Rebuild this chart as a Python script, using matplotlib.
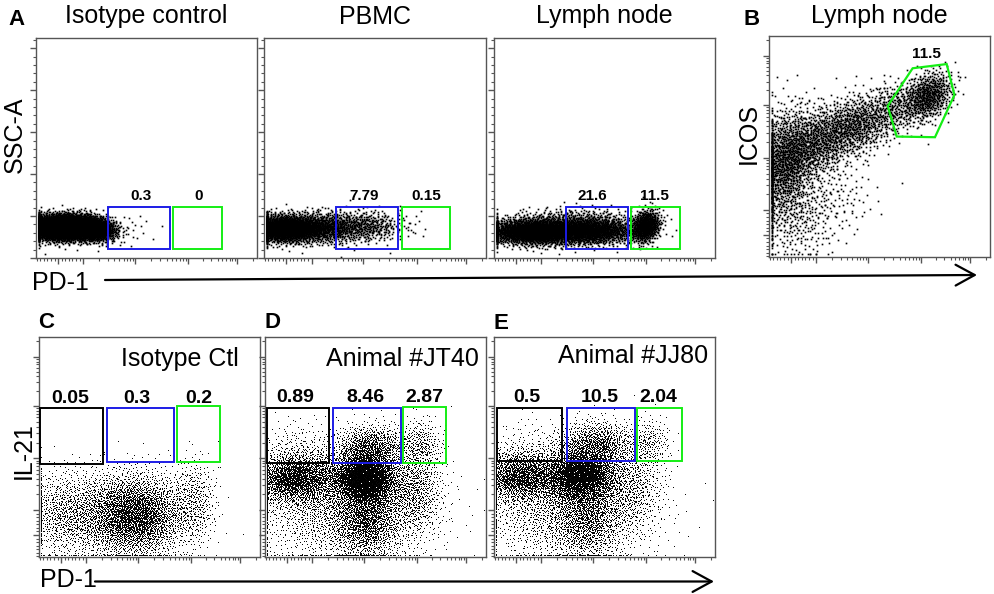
import numpy as np
import matplotlib
matplotlib.use("Agg")
import matplotlib.pyplot as plt
from matplotlib.patches import Rectangle, Polygon, FancyArrowPatch

plt.rcParams['font.family'] = ['Liberation Sans', 'DejaVu Sans']

# ---------------- data (display units 0..1 of each axis) ----------------
# event clouds: (cx, cy, sx, sy, n, rho)
A_ISO = [(0.12, 0.140, 0.08, 0.028, 5000, 0.0),
         (0.25, 0.135, 0.05, 0.026, 2000, -0.2),
         (0.42, 0.130, 0.06, 0.040, 25, 0.0)]
A_PBMC = [(0.10, 0.135, 0.09, 0.030, 2800, 0.0),
          (0.30, 0.140, 0.08, 0.035, 700, 0.0),
          (0.47, 0.145, 0.08, 0.035, 380, 0.0),
          (0.68, 0.160, 0.04, 0.040, 8, 0.0)]
A_LN = [(0.20, 0.120, 0.12, 0.028, 3200, 0.0),
        (0.45, 0.125, 0.10, 0.030, 1500, 0.0),
        (0.35, 0.170, 0.15, 0.030, 400, 0.0),
        (0.685, 0.145, 0.032, 0.035, 800, 0.2)]
B_LN = [(0.07, 0.43, 0.07, 0.12, 1300, 0.2),
        (0.22, 0.52, 0.09, 0.08, 850, 0.3),
        (0.40, 0.60, 0.09, 0.07, 750, 0.3),
        (0.58, 0.68, 0.07, 0.06, 300, 0.2),
        (0.72, 0.73, 0.055, 0.055, 650, 0.3),
        (0.12, 0.18, 0.10, 0.10, 320, 0.0),
        (0.30, 0.28, 0.10, 0.08, 100, 0.0)]
C_ISO = [(0.42, 0.19, 0.12, 0.095, 3800, 0.0),
         (0.12, 0.20, 0.10, 0.10, 1000, 0.0),
         (0.70, 0.25, 0.05, 0.10, 450, 0.0)]
D_JT40 = [(0.14, 0.36, 0.10, 0.060, 2400, 0.0),
          (0.45, 0.36, 0.075, 0.06, 3600, 0.0),
          (0.46, 0.17, 0.08, 0.090, 1500, 0.0),
          (0.35, 0.22, 0.20, 0.130, 2200, 0.0),
          (0.68, 0.30, 0.06, 0.100, 700, 0.0),
          (0.48, 0.50, 0.08, 0.050, 1000, 0.0),
          (0.70, 0.51, 0.05, 0.060, 320, 0.0),
          (0.15, 0.52, 0.09, 0.060, 130, 0.0)]
E_JJ80 = [(0.12, 0.37, 0.10, 0.060, 2000, 0.0),
          (0.39, 0.37, 0.08, 0.06, 3000, 0.0),
          (0.42, 0.18, 0.08, 0.100, 1200, 0.0),
          (0.32, 0.22, 0.20, 0.130, 2000, 0.0),
          (0.62, 0.32, 0.07, 0.100, 600, 0.0),
          (0.46, 0.51, 0.09, 0.055, 1100, 0.0),
          (0.70, 0.52, 0.05, 0.060, 230, 0.0),
          (0.16, 0.53, 0.09, 0.060, 80, 0.0)]

# panel A gates (x0, y0, x1, y1) and gate frequencies
A_BLUE = (0.325, 0.042, 0.605, 0.232)
A_GREEN = (0.620, 0.042, 0.840, 0.232)
A_TITLES = ['Isotype control', 'PBMC', 'Lymph node']
A_BLUE_PCT = ['0.3', '7.79', '21.6']
A_GREEN_PCT = ['0', '0.15', '11.5']
A_BLUE_LX = [0.477, 0.450, 0.447]
A_GREEN_LX = [0.737, 0.730, 0.724]

# panel B gate
B_GATE_X = [0.650, 0.804, 0.839, 0.751, 0.578, 0.537]
B_GATE_Y = [0.854, 0.873, 0.733, 0.542, 0.545, 0.683]
B_PCT = '11.5'

# panels C-E gates
CDE_TITLES = ['Isotype Ctl', 'Animal #JT40', 'Animal #JJ80']
CDE_BLACK = [(0.005, 0.423, 0.290, 0.676), (0.008, 0.427, 0.290, 0.677), (0.012, 0.438, 0.306, 0.679)]
CDE_BLUE = [(0.306, 0.430, 0.612, 0.676), (0.306, 0.427, 0.615, 0.679), (0.329, 0.438, 0.637, 0.679)]
CDE_GREEN = [(0.624, 0.430, 0.820, 0.685), (0.626, 0.427, 0.819, 0.680), (0.648, 0.438, 0.852, 0.679)]
CDE_PCT = [('0.05', '0.3', '0.2'), ('0.89', '8.46', '2.87'), ('0.5', '10.5', '2.04')]
CDE_LX = [(0.140, 0.442, 0.724), (0.136, 0.455, 0.721), (0.148, 0.480, 0.744)]

# ---------------- helpers ----------------
W, H = 995, 594
fig = plt.figure(figsize=(W / 100, H / 100), dpi=100)

BLUE = '#1c1ce6'
GREEN = '#14ee14'
FRAME = '#555555'


def ax_at(x0, y0, x1, y1):
    return fig.add_axes([x0 / W, 1 - y1 / H, (x1 - x0) / W, (y1 - y0) / H])


def ftext(x, y, s, **kw):
    fig.text(x / W, 1 - y / H, s, **kw)


def halton(n, base, start):
    idx = np.arange(start, start + n)
    res = np.zeros(n)
    f = 1.0
    i = idx.copy()
    while np.any(i > 0):
        f /= base
        res += f * (i % base)
        i //= base
    return res


def cloud(comps, offset):
    xs, ys = [], []
    for k, (cx, cy, sx, sy, n, rho) in enumerate(comps):
        s = 1 + offset + 7919 * (k + 1)
        u1 = halton(n, 2, s)
        u2 = halton(n, 3, s)
        u1 = np.clip(u1, 1e-6, 1)
        r = np.sqrt(-2 * np.log(u1))
        z1 = r * np.cos(2 * np.pi * u2)
        z2 = r * np.sin(2 * np.pi * u2)
        xs.append(cx + sx * z1)
        ys.append(cy + sy * (rho * z1 + np.sqrt(1 - rho ** 2) * z2))
    return np.concatenate(xs), np.concatenate(ys)


def biexp_ticks(ax, axis):
    major = [0.10, 0.214, 0.448, 0.688, 0.91]
    minor = []
    step = (0.214 - 0.10) / 7
    minor += [0.10 - step * k for k in range(1, 7)]
    minor += [0.10 + step * k for k in range(1, 7)]
    for a, b in [(0.214, 0.448), (0.448, 0.688), (0.688, 0.91), (0.91, 1.15)]:
        for m in range(2, 10):
            v = a + (b - a) * np.log10(m)
            if v < 1.0:
                minor.append(v)
    if axis == 'x':
        ax.set_xticks(major)
        ax.set_xticks(minor, minor=True)
    else:
        ax.set_yticks(major)
        ax.set_yticks(minor, minor=True)


def style(ax, ylin=False):
    ax.set_xlim(0, 1)
    ax.set_ylim(0, 1)
    biexp_ticks(ax, 'x')
    if ylin:
        ax.set_yticks([k * 50000 / 262144 for k in range(6)])
        ax.set_yticks([k * 10000 / 262144 for k in range(27) if k % 5], minor=True)
    else:
        biexp_ticks(ax, 'y')
    ax.tick_params(which='major', direction='out', length=4, width=1.0, color=FRAME,
                   labelbottom=False, labelleft=False)
    ax.tick_params(which='minor', direction='out', length=2, width=0.8, color=FRAME)
    for sp in ax.spines.values():
        sp.set_color(FRAME)
        sp.set_linewidth(1.0)


def rect(ax, g, color, lw=1.4):
    ax.add_patch(Rectangle((g[0], g[1]), g[2] - g[0], g[3] - g[1], fill=False,
                           edgecolor=color, lw=lw, zorder=5))


# ---------------- panel A ----------------
A_POS = [(36, 38, 257, 258), (264, 38, 486, 258), (494, 38, 715, 258)]
A_DATA = [A_ISO, A_PBMC, A_LN]
for i in range(3):
    ax = ax_at(*A_POS[i])
    style(ax, ylin=True)
    x, y = cloud(A_DATA[i], 1000 * i)
    x = np.clip(x, 0.012, 0.99)
    ax.plot(x, y, ls='none', marker='s', ms=1.2, mew=0, color='k', zorder=2)
    rect(ax, A_BLUE, BLUE)
    rect(ax, A_GREEN, GREEN)
    ax.text(A_BLUE_LX[i], 0.264, A_BLUE_PCT[i], ha='center', va='baseline',
            fontsize=11, fontweight='bold')
    ax.text(A_GREEN_LX[i], 0.264, A_GREEN_PCT[i], ha='center', va='baseline',
            fontsize=11, fontweight='bold')
    x0, _, x1, _ = A_POS[i]
    ftext((x0 + x1) / 2, 23.5, A_TITLES[i], ha='center', va='baseline', fontsize=18)

# ---------------- panel B ----------------
axB = ax_at(769, 36, 990, 257)
style(axB)
x, y = cloud(B_LN, 5000)
x = np.clip(x, 0.012, 0.99)
y = np.clip(y, 0.012, 0.99)
axB.plot(x, y, ls='none', marker='s', ms=1.2, mew=0, color='k', zorder=2)
axB.add_patch(Polygon(np.column_stack([B_GATE_X, B_GATE_Y]), closed=True, fill=False,
                      edgecolor=GREEN, lw=1.6, zorder=5))
axB.text(0.713, 0.899, B_PCT, ha='center', va='baseline', fontsize=11, fontweight='bold')
ftext(879.5, 23.5, 'Lymph node', ha='center', va='baseline', fontsize=18)

# ---------------- panels C-E ----------------
CDE_POS = [(39, 337, 260, 557), (265, 337, 486, 557), (494, 337, 715, 557)]
CDE_DATA = [C_ISO, D_JT40, E_JJ80]
CDE_TITLE_Y = [0.868, 0.868, 0.880]
CDE_TITLE_X = [0.905, 0.970, 0.970]
CDE_LY = [0.699, 0.703, 0.706]
for i in range(3):
    ax = ax_at(*CDE_POS[i])
    style(ax)
    x, y = cloud(CDE_DATA[i], 9000 + 3000 * i)
    x = np.clip(x, 0.008, 0.99)
    y = np.clip(y, 0.008, 0.99)
    ax.plot(x, y, ls='none', marker='s', ms=0.65, mew=0, color='k', zorder=2)
    rect(ax, CDE_BLACK[i], 'k')
    rect(ax, CDE_BLUE[i], BLUE)
    rect(ax, CDE_GREEN[i], GREEN)
    for lx, t in zip(CDE_LX[i], CDE_PCT[i]):
        ax.text(lx, CDE_LY[i], t, ha='center', va='baseline', fontsize=14, fontweight='bold')
    ax.text(CDE_TITLE_X[i], CDE_TITLE_Y[i], CDE_TITLES[i], ha='right', va='baseline', fontsize=18)

# ---------------- letters, axis labels, arrows ----------------
for s, px, py in [('A', 8.3, 25), ('B', 743.3, 25), ('C', 38.3, 328.3), ('D', 265, 328.3), ('E', 494, 329)]:
    ftext(px, py, s, ha='left', va='baseline', fontsize=16, fontweight='bold')

ftext(15, 135, 'SSC-A', rotation=90, ha='center', va='center', fontsize=18)
ftext(749, 133, 'ICOS', rotation=90, ha='center', va='center', fontsize=18)
ftext(24, 451, 'IL-21', rotation=90, ha='center', va='center', fontsize=18)
ftext(32, 290, 'PD-1', ha='left', va='baseline', fontsize=18)
ftext(40, 587.3, 'PD-1', ha='left', va='baseline', fontsize=18)

for (xa, ya), (xb, yb) in [((105, 280), (977, 275)), ((95, 581.5), (714, 581.5))]:
    arr = FancyArrowPatch((xa / W, 1 - ya / H), (xb / W, 1 - yb / H), transform=fig.transFigure,
                          arrowstyle='->,head_length=0.55,head_width=0.3', mutation_scale=25,
                          lw=1.6, color='k', shrinkA=0, shrinkB=0)
    fig.add_artist(arr)

fig.savefig('out.png', dpi=100)
